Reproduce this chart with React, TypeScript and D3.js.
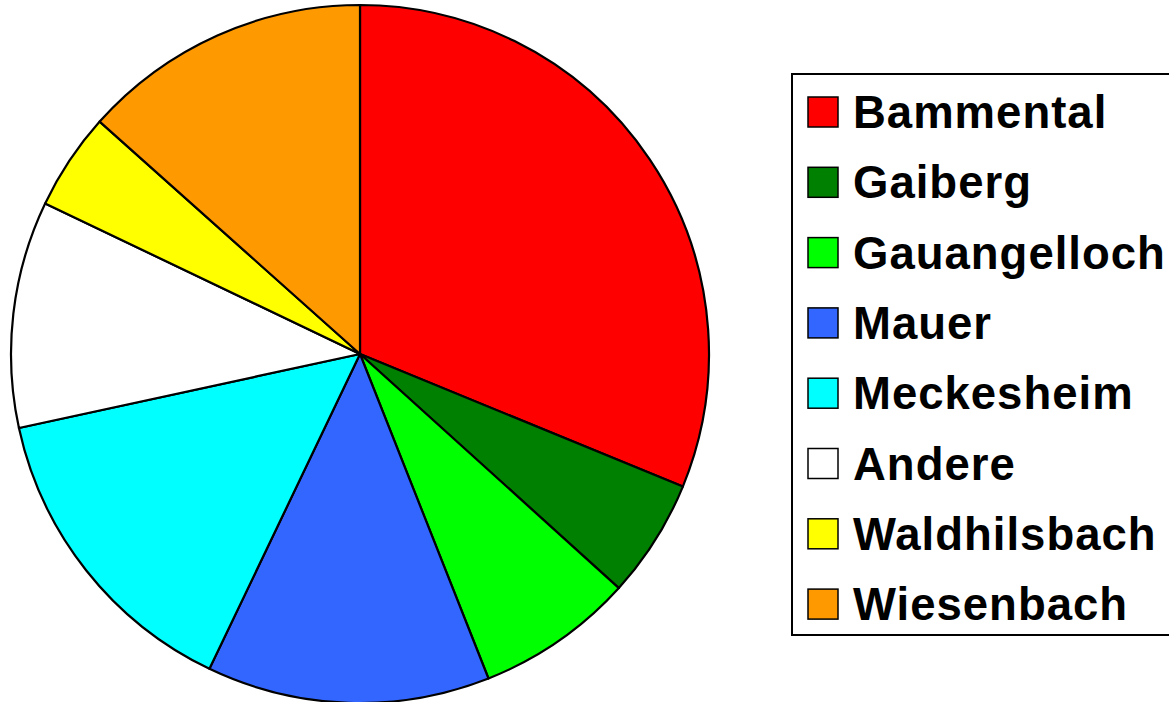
import { useEffect, useRef } from 'react'
import * as d3 from 'd3'

const categories = ['Bammental', 'Gaiberg', 'Gauangelloch', 'Mauer', 'Meckesheim', 'Andere', 'Waldhilsbach', 'Wiesenbach']
const values = [31.2, 5.5, 7.3, 13.1, 14.5, 10.5, 4.5, 13.4]
const colors = ['#ff0000', '#008000', '#00ff00', '#3366ff', '#00ffff', '#ffffff', '#ffff00', '#ff9900']

export default function App() {
  const ref = useRef<SVGSVGElement>(null)

  useEffect(() => {
    const svg = d3.select(ref.current)
    svg.selectAll('*').remove()
    const width = 1169
    const height = 702
    const cx = 360
    const cy = 354
    const radius = 349

    svg.append('rect').attr('width', width).attr('height', height).attr('fill', '#fff')

    const data = categories.map((c, i) => ({ name: c, value: values[i], color: colors[i] }))
    const pie = d3.pie<any>().value((d) => d.value).sort(null)
    const arc = d3.arc<any>().innerRadius(0).outerRadius(radius)

    svg
      .append('g')
      .attr('transform', `translate(${cx},${cy})`)
      .selectAll('path')
      .data(pie(data))
      .enter()
      .append('path')
      .attr('d', arc)
      .attr('fill', (d) => d.data.color)
      .attr('stroke', '#000')
      .attr('stroke-width', 2.2)
      .attr('stroke-linejoin', 'round')

    // legend
    const lx = 792
    const ly = 74
    svg
      .append('rect')
      .attr('x', lx)
      .attr('y', ly)
      .attr('width', 400)
      .attr('height', 561)
      .attr('fill', '#fff')
      .attr('stroke', '#000')
      .attr('stroke-width', 2)

    const y = d3.scaleLinear().domain([0, categories.length - 1]).range([97, 97 + 70.3 * 7])
    const items = svg
      .append('g')
      .selectAll('g')
      .data(data)
      .enter()
      .append('g')
      .attr('transform', (d, i) => `translate(0,${y(i)})`)

    items
      .append('rect')
      .attr('x', 808)
      .attr('y', 0)
      .attr('width', 30)
      .attr('height', 30)
      .attr('fill', (d) => d.color)
      .attr('stroke', '#000')
      .attr('stroke-width', 1.5)

    items
      .append('text')
      .attr('x', 853)
      .attr('y', 31)
      .attr('font-family', 'Liberation Sans, Arial, sans-serif')
      .attr('font-weight', 'bold')
      .attr('font-size', 45.5)
      .attr('letter-spacing', 1)
      .attr('fill', '#000')
      .text((d) => d.name)
  }, [])

  return (
    <svg
      ref={ref}
      width={1169}
      height={702}
      style={{ position: 'absolute', left: 0, top: 0, display: 'block' }}
    />
  )
}
